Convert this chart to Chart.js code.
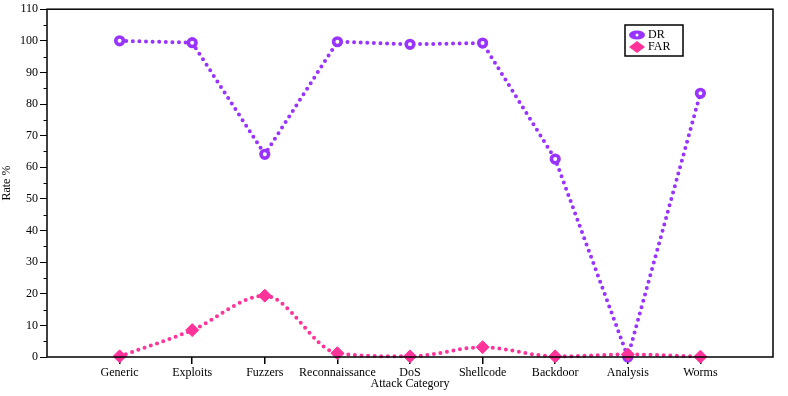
<!DOCTYPE html>
<html>
<head>
<meta charset="utf-8">
<script src="https://cdn.jsdelivr.net/npm/chart.js@4.4.1/dist/chart.umd.min.js"></script>
<style>
  html, body { margin: 0; padding: 0; background: #fff; }
  #wrap { width: 788px; height: 396px; }
</style>
</head>
<body>
<div id="wrap"><canvas id="rateChart" width="788" height="396"></canvas></div>
<script>
const categories = ["Generic", "Exploits", "Fuzzers", "Reconnaissance", "DoS", "Shellcode", "Backdoor", "Analysis", "Worms"];
const drValues = [100, 99.4, 64.1, 99.7, 98.9, 99.3, 62.6, 0, 83.4];
const farValues = [0.2, 8.5, 19.4, 1.2, 0.2, 3.1, 0.2, 0.8, 0.1];
const yMax = 110;
const yStep = 10;

const purple = '#9933ff';
const pink = '#ff3399';
const serif = "'Liberation Serif', 'DejaVu Serif', serif";

const toPoints = vals => vals.map((v, i) => ({ x: i + 1, y: v }));

// box round the plot, minor ticks on the y axis, and the legend
const framePlugin = {
    id: 'frame',
    afterDraw(chart) {
        const { ctx, chartArea: a, scales } = chart;
        ctx.save();
        ctx.strokeStyle = '#000';
        ctx.lineWidth = 1.5;
        ctx.strokeRect(a.left, a.top, a.right - a.left, a.bottom - a.top);

        ctx.lineWidth = 1;
        for (let v = yStep / 2; v < yMax; v += yStep) {
            const y = Math.round(scales.y.getPixelForValue(v)) + 0.5;
            ctx.beginPath();
            ctx.moveTo(a.left - 3.5, y);
            ctx.lineTo(a.left, y);
            ctx.stroke();
        }

        // legend
        const lx = 625, ly = 25;
        ctx.lineWidth = 1.5;
        ctx.strokeRect(lx, ly, 58, 31);
        ctx.font = '12px ' + serif;
        ctx.textBaseline = 'middle';
        ctx.fillStyle = '#000';
        ctx.fillText('DR', 648, ly + 10);
        ctx.fillText('FAR', 648, ly + 22);

        ctx.fillStyle = purple;
        ctx.beginPath();
        ctx.ellipse(637, ly + 10, 8, 4.5, 0, 0, Math.PI * 2);
        ctx.fill();
        ctx.fillStyle = '#fff';
        ctx.beginPath();
        ctx.arc(637, ly + 10, 1.5, 0, Math.PI * 2);
        ctx.fill();

        ctx.fillStyle = pink;
        ctx.beginPath();
        ctx.moveTo(629, ly + 22);
        ctx.lineTo(637, ly + 16);
        ctx.lineTo(645, ly + 22);
        ctx.lineTo(637, ly + 28);
        ctx.closePath();
        ctx.fill();
        ctx.restore();
    }
};

new Chart(document.getElementById('rateChart'), {
    type: 'line',
    data: {
        datasets: [{
            label: 'DR',
            data: toPoints(drValues),
            order: 1,
            borderColor: purple,
            borderWidth: 4,
            borderDash: [0, 6.6],
            borderCapStyle: 'round',
            tension: 0,
            pointStyle: 'circle',
            pointRadius: 3.8,
            pointBorderWidth: 3.6,
            pointBorderColor: purple,
            pointBackgroundColor: '#fff',
            clip: false
        }, {
            label: 'FAR',
            data: toPoints(farValues),
            order: 0,
            borderColor: pink,
            borderWidth: 4,
            borderDash: [0, 6.6],
            borderCapStyle: 'round',
            cubicInterpolationMode: 'monotone',
            pointStyle: 'rectRot',
            pointRadius: 6.5,
            pointBorderWidth: 1,
            pointBorderColor: pink,
            pointBackgroundColor: pink,
            clip: false
        }]
    },
    options: {
        responsive: false,
        animation: false,
        layout: { padding: { left: 0, right: 15, top: 9, bottom: 0 } },
        plugins: {
            legend: { display: false },
            tooltip: { enabled: false }
        },
        scales: {
            x: {
                type: 'linear',
                min: 0,
                max: categories.length + 1,
                afterFit: s => { s.height = 39; },
                afterBuildTicks: s => { s.ticks = categories.map((_, i) => ({ value: i + 1 })); },
                ticks: {
                    autoSkip: false,
                    maxRotation: 0,
                    padding: 2,
                    color: '#000',
                    font: { family: serif, size: 12 },
                    callback: v => categories[v - 1] || ''
                },
                grid: { drawOnChartArea: false, tickLength: 7, color: '#000', lineWidth: 1.5 },
                border: { display: false },
                title: {
                    display: true,
                    text: 'Attack Category',
                    color: '#000',
                    font: { family: serif, size: 12 },
                    padding: { top: 0, bottom: 5 }
                }
            },
            y: {
                min: 0,
                max: yMax,
                afterFit: s => { s.width = 47; },
                ticks: {
                    stepSize: yStep,
                    padding: 2,
                    color: '#000',
                    font: { family: serif, size: 12 }
                },
                grid: { drawOnChartArea: false, tickLength: 7, color: '#000', lineWidth: 1 },
                border: { display: false },
                title: {
                    display: true,
                    text: 'Rate %',
                    color: '#000',
                    font: { family: serif, size: 12 },
                    padding: { top: 0, bottom: 2 }
                }
            }
        }
    },
    plugins: [framePlugin]
});
</script>
</body>
</html>
